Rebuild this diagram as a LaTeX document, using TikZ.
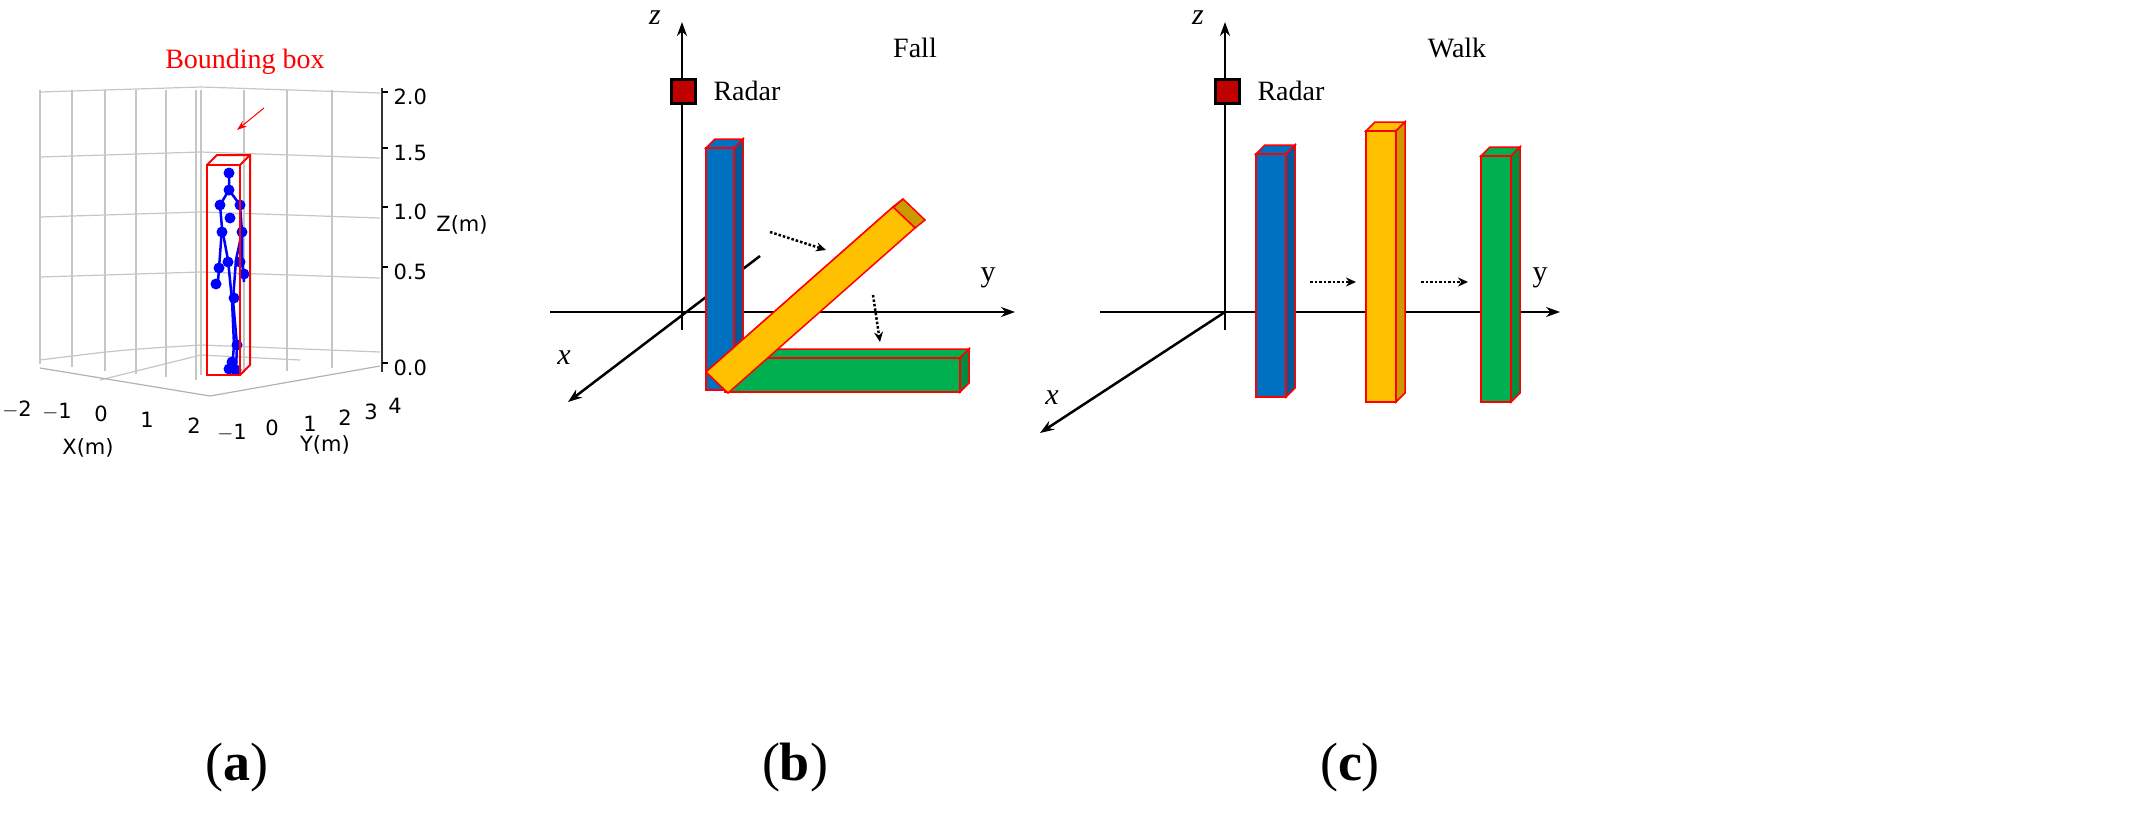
\documentclass[tikz,border=0pt]{standalone}
\usepackage{fontspec}
\setmainfont{Liberation Serif}
\newfontfamily\sans{DejaVu Sans}
\usetikzlibrary{arrows.meta}
\definecolor{cb}{HTML}{0070C0}\definecolor{cy}{HTML}{FFC000}\definecolor{cg}{HTML}{00B050}\definecolor{cr}{HTML}{C00000}
\newcommand\mycuboid[5]{%
 \fill[#5,draw=red,line width=1.5pt] (#1,#2)--(#1+9,#2-9)--(#3+9,#2-9)--(#3,#2)--cycle;
 \fill[#5!80!black,draw=red,line width=1.5pt] (#3,#2)--(#3+9,#2-9)--(#3+9,#4-9)--(#3,#4)--cycle;
 \fill[#5,draw=red,line width=1.5pt] (#1,#2) rectangle (#3,#4);}
\begin{document}
\begin{tikzpicture}[x=1pt,y=-1pt,
 ax/.style={line width=2.5pt,-{Stealth[length=14pt,width=10pt]}},
 dot/.style={line width=2.5pt,dotted,-{Stealth[length=10pt,width=9pt]}},
 tick/.style={font=\sans\fontsize{21}{21}\selectfont},
 grid/.style={gray!45,line width=1.2pt}]
\useasboundingbox (0,0) rectangle (2155,819);
% ---------- (a)
\foreach \x in {40,72,105,136,166,196} \draw[grid] (\x,90)--(\x,360+\x*0.1);
\foreach \x in {244,287,332} \draw[grid] (\x,90)--(\x,385-\x*0.05);
\draw[grid] (201,90)--(201,375);
\foreach \y in {90,155,215,275} {\draw[grid] (40,\y+2)--(201,\y-3)--(380,\y+3);}
\draw[grid] (40,360) .. controls (120,350) .. (201,345)--(380,352);
\draw[grid] (100,380)--(201,355)--(300,360);
\draw[gray!60,line width=1.2pt] (40,368)--(210,396)--(380,366);
\draw[black!80,line width=2pt] (382,88)--(382,372);
\foreach \y/\t in {97/2.0,153/1.5,212/1.0,272/0.5,368/0.0}{\draw[line width=1.5pt](382,\y-5)--(388,\y-5); \node[tick,anchor=west] (za\t) at (390,\y) {\t};}
\node[tick] (zl) at (462,225) {Z(m)};
\foreach \x/\y/\t in {17/410/$-$2,57/412/$-$1,101/414/0,147/420/1,194/426/2}{\node[tick] at (\x,\y) {\t};}
\foreach \x/\y/\t in {232/433/$-$1,272/428/0,310/424/1,345/418/2,371/412/3,395/406/4}{\node[tick] at (\x,\y) {\t};}
\node[tick] (xl) at (88,448) {X(m)};
\node[tick] (yl) at (325,445) {Y(m)};
% skeleton
\begin{scope}[blue,line width=2.5pt]
\draw (229,173)--(229,190)--(220,205)--(222,228)--(220,255)--(218,282);
\draw (229,190)--(240,205)--(242,232)--(242,260)--(244,282);
\draw (222,228)--(228,260)--(232,300)--(234,345)--(232,370);
\draw (242,232)--(236,260)--(233,300)--(237,345)--(236,370);
\foreach \p in {(229,173),(229,190),(220,205),(240,205),(230,218),(222,232),(242,232),(228,262),(240,262),(219,268),(244,274),(216,284),(234,298),(237,345),(232,362),(236,370),(229,369)} \fill \p circle (5.5);
\end{scope}
\draw[red,line width=2pt] (207,165) rectangle (240,375);
\draw[red,line width=2pt] (207,165)--(217,155)--(250,155)--(250,365)--(240,375) (240,165)--(250,155);
\node[red,font=\fontsize{28}{28}\selectfont] (bb) at (245,62) {Bounding box};
\coordinate (bbt) at (237,130);
\draw[red,line width=1pt,-{Stealth[length=10pt,width=7pt]}] (264,108)--(bbt);
% ---------- (b)
\node[font=\itshape\fontsize{30}{30}\selectfont] (zb) at (655,18) {z};
\node[font=\fontsize{30}{30}\selectfont] (yb) at (988,278) {y};
\node[font=\itshape\fontsize{30}{30}\selectfont] (xb) at (564,358) {x};
\node[font=\fontsize{28}{28}\selectfont] (fall) at (915,48) {Fall};
\coordinate (ob) at (682,312);
\draw[ax] (682,330)--(682,22);
\draw[ax] (550,312)--(1015,312);
\draw[ax] (760,256)--(568,402);
\node[draw=black,fill=cr,line width=3pt,minimum size=24pt,inner sep=0pt] (rb) at (683,91) {};
\node[font=\fontsize{28}{28}\selectfont,anchor=west] (rbt) at (710,91) {Radar};
\mycuboid{706}{148}{734}{390}{cb}
\mycuboid{725}{358}{960}{392}{cg}
\fill[cy!80!black,draw=red,line width=1.5pt] (893,207)--(903,199)--(925,220)--(915,228)--cycle;
\fill[cy,draw=red,line width=1.5pt] (706,372)--(716,364)--(903,199)--(893,207)--cycle;
\fill[cy,draw=red,line width=1.5pt] (706,372)--(893,207)--(915,228)--(728,393)--cycle;
\draw[dot] (770,232)--(826,250);
\draw[dot] (873,295)--(880,342);
% ---------- (c)
\node[font=\itshape\fontsize{30}{30}\selectfont] (zc) at (1198,18) {z};
\node[font=\fontsize{30}{30}\selectfont] (yc) at (1540,278) {y};
\node[font=\itshape\fontsize{30}{30}\selectfont] (xc) at (1052,398) {x};
\node[font=\fontsize{28}{28}\selectfont] (walk) at (1457,48) {Walk};
\draw[ax] (1225,330)--(1225,22);
\draw[ax] (1100,312)--(1560,312);
\draw[ax] (1225,312)--(1040,433);
\node[draw=black,fill=cr,line width=3pt,minimum size=24pt,inner sep=0pt] (rc) at (1227,91) {};
\node[font=\fontsize{28}{28}\selectfont,anchor=west] (rct) at (1254,91) {Radar};
\mycuboid{1256}{154}{1286}{397}{cb}
\mycuboid{1366}{131}{1396}{402}{cy}
\mycuboid{1481}{156}{1511}{402}{cg}
\draw[dot] (1310,282)--(1356,282);
\draw[dot] (1421,282)--(1468,282);
% captions
\node[font=\fontsize{54}{54}\selectfont] (ca) at (237,768) {(\textbf{a})};
\node[font=\fontsize{54}{54}\selectfont] (cbn) at (795,768) {(\textbf{b})};
\node[font=\fontsize{54}{54}\selectfont] (cc) at (1350,768) {(\textbf{c})};
\end{tikzpicture}
\end{document}
